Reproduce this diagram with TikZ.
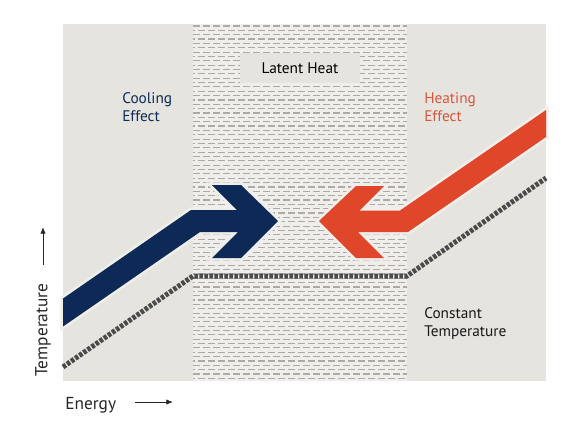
\documentclass[tikz,border=0pt]{standalone}
\usepackage{fontspec}
\setmainfont{PT Sans}
\usetikzlibrary{arrows.meta}
\definecolor{panel}{HTML}{E6E4DF}
\definecolor{band}{HTML}{EFEEEA}
\definecolor{hatch}{HTML}{ABAAA7}
\definecolor{navy}{HTML}{0D2A56}
\definecolor{heat}{HTML}{E0462A}
\definecolor{heattext}{HTML}{D5573B}
\definecolor{level}{HTML}{4A4A4A}
\begin{document}
\begin{tikzpicture}[x=0.75pt,y=-0.75pt,line join=miter,
  label/.style={font=\fontsize{11.5}{13.5}\selectfont,align=left,anchor=north west,inner sep=0pt},
  axislabel/.style={font=\fontsize{13}{15}\selectfont,inner sep=0pt,text=black!85},
  axis/.style={-{Latex[length=5pt,width=4pt]},line width=0.6pt,black!85},
  halo/.style={preaction={draw=band,line width=4pt}}]
  \useasboundingbox (0,0) rectangle (580,426);
  % panel and latent band
  \fill[panel] (63,24) rectangle (546,381);
  \fill[band] (193,24) rectangle (407,381);
  \foreach \r in {0,...,81}{
    \pgfmathsetmacro\yy{26+4.35*\r}
    \pgfmathsetmacro\ph{mod(\r,2)*3.75}
    \draw[hatch,line width=0.85pt,dash pattern=on 5.25pt off 2.25pt,dash phase=\ph pt]
      (193,\yy) -- (407,\yy);
  }
  \node[fill=panel,minimum width=90pt,minimum height=22.5pt,inner sep=0pt,
    font=\fontsize{11.5}{13.5}\selectfont] (latent) at (300,68) {Latent Heat};

  % constant temperature line
  \coordinate (L0) at (63,367);
  \coordinate (L1) at (193,276);
  \coordinate (L2) at (407,276);
  \coordinate (L3) at (546,178);
  \draw[level,line width=3.75pt,dash pattern=on 2.6pt off 1.15pt] (L0) -- (L1) -- (L2) -- (L3);

  % cooling arrow
  \fill[navy,halo] (63,298.5) -- (191,210) -- (237,210) -- (212,185) -- (241,185)
    -- (278,221) -- (241,258) -- (212,258) -- (238,232) -- (200,232) -- (63,326.5) -- cycle;
  % heating arrow
  \fill[heat,halo] (546,110) -- (400,210.5) -- (359.5,210.5) -- (384,186) -- (356,186)
    -- (319,221) -- (356,258) -- (384,258) -- (358,232) -- (408,232) -- (546,137) -- cycle;

  \node[label,text=navy] (cool) at (122,92) {Cooling\\Effect};
  \node[label,text=heattext] (heat) at (424,92) {Heating\\Effect};
  \node[label,text=black!90] (const) at (424,307) {Constant\\Temperature};

  % axes
  \node[axislabel,rotate=90] (temp) at (43,330) {Temperature};
  \node[axislabel,anchor=base west] (energy) at (65,409) {Energy};
  \coordinate (tA) at (43,265);
  \coordinate (tB) at (43,227);
  \coordinate (eA) at (135,402);
  \coordinate (eB) at (173,402);
  \draw[axis] (tA) -- (tB);
  \draw[axis] (eA) -- (eB);
\end{tikzpicture}
\end{document}
